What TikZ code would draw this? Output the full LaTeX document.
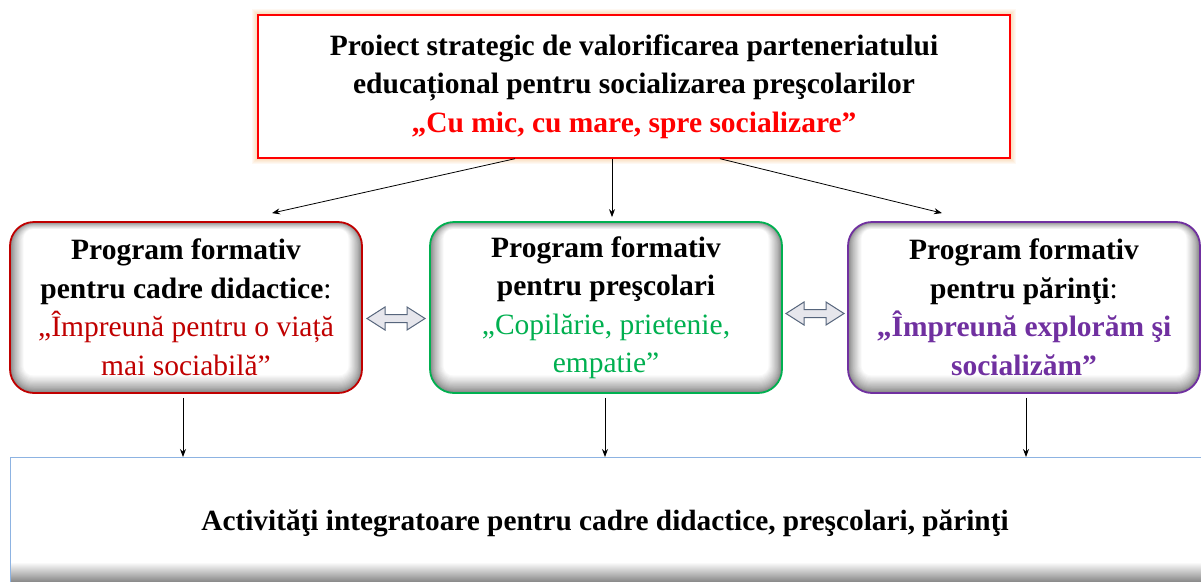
\documentclass[tikz,border=0pt]{standalone}
\usepackage{fontspec}
\setmainfont{Liberation Serif}
\usetikzlibrary{calc,arrows.meta}
\definecolor{topred}{HTML}{FF0000}
\definecolor{dred}{HTML}{C00000}
\definecolor{pgreen}{HTML}{00B050}
\definecolor{ppurple}{HTML}{7030A0}
\definecolor{bblue}{HTML}{8DB3E2}
\definecolor{arrfill}{HTML}{E6E6EC}
\definecolor{arrline}{HTML}{56657C}
\definecolor{glow}{HTML}{F7A54A}
\begin{document}
\begin{tikzpicture}[x=1pt,y=-1pt,
  txt/.style={font=\fontsize{29.5}{38.5}\selectfont, align=center},
  topbox/.style={draw=topred, line width=1.4pt, minimum width=752pt, minimum height=143pt, inner sep=0pt, txt, font=\fontsize{29.5}{38.5}\selectfont\bfseries},
  progbox/.style={line width=1.8pt, rounded corners=24pt, minimum width=352pt, minimum height=171pt, inner sep=0pt, txt,
    path picture={
      \foreach \i in {0,...,16}{
        \pgfmathsetmacro\c{100*(\i/16)^0.75}
        \pgfmathsetmacro\t{0.45*\i}
        \pgfmathsetmacro\s{0.85*\i}
        \pgfmathsetmacro\b{1.1*\i}
        \pgfmathsetmacro\r{max(24-0.9*\i,6)}
        \fill[white!\c!black!50, rounded corners=\r pt]
          ($(path picture bounding box.north west)+(\s pt,-\t pt)$) rectangle
          ($(path picture bounding box.south east)+(-\s pt,\b pt)$);
      }
    }},
  conn/.style={-{Stealth[length=8pt,width=6pt]}, line width=0.8pt, black},
  dbl/.style={draw=arrline, fill=arrfill, line width=1pt, line join=miter}
]
\useasboundingbox (0,0) rectangle (1201,581);
\fill[white] (0,0) rectangle (1201,581);

% glow of the top box
\foreach \w in {2,4,...,12}{
  \draw[glow, line width=\w pt, opacity=0.07] (258,15) rectangle (1010,158);
}
\node[topbox, fill=white] (T) at (634,86.5) {Proiect strategic de valorificarea parteneriatului\\
educațional pentru socializarea preşcolarilor\\
\textcolor{topred}{„Cu mic, cu mare, spre socializare”}};

\node[progbox, draw=dred] (L) at (186,307.5) {\textbf{Program formativ}\\
\textbf{pentru cadre didactice}:\\
\textcolor{dred}{„Împreună pentru o viață}\\
\textcolor{dred}{mai sociabilă”}};

\node[progbox, draw=pgreen] (M) at (606,307.5) {\textbf{Program formativ}\\
\textbf{pentru preşcolari}\\
\textcolor{pgreen}{„Copilărie, prietenie,}\\
\textcolor{pgreen}{empatie”}};

\node[progbox, draw=ppurple] (R) at (1024,307.5) {\textbf{Program formativ}\\
\textbf{pentru părinţi}:\\
\textcolor{ppurple}{\textbf{„Împreună explorăm şi}}\\
\textcolor{ppurple}{\textbf{socializăm”}}};

% bottom box
\shade[top color=white, bottom color=black!45] (10,562) rectangle (1210,581);
\node[draw=bblue, line width=1pt, minimum width=1200pt, minimum height=140pt, inner sep=0pt, anchor=north west] (B) at (10,457) {};
\node[font=\fontsize{29.3}{32}\selectfont\bfseries] (BT) at (605,523) {Activităţi integratoare pentru cadre didactice, preşcolari, părinţi};

% arrows from top box
\draw[conn] ($(T.south)+(-119,0)$) -- ($(L.north)+(86,-8)$);
\draw[conn] ($(T.south)+(-22,0)$) -- ($(M.north)+(6,-4)$);
\draw[conn] ($(T.south)+(86,0)$) -- ($(R.north)+(-82,-8)$);

% arrows to bottom box
\draw[conn] ($(L.south)+(-3,4)$) -- ($(L.south |- B.north)+(-3,0)$);
\draw[conn] ($(M.south)+(-1,4)$) -- ($(M.south |- B.north)+(-1,0)$);
\draw[conn] ($(R.south)+(2,4)$) -- ($(R.south |- B.north)+(2,0)$);

% double arrows between boxes
\draw[dbl] ($(L.east)!0.5!(M.west)+(-29,11)$) -- ++(18,-11.5) -- ++(0,7.5) -- ++(22,0) -- ++(0,-7.5)
  -- ++(18,11.5) -- ++(-18,11.5) -- ++(0,-7.5) -- ++(-22,0) -- ++(0,7.5) -- cycle;
\draw[dbl] ($(M.east)!0.5!(R.west)+(-29,6)$) -- ++(18,-11.5) -- ++(0,7.5) -- ++(22,0) -- ++(0,-7.5)
  -- ++(18,11.5) -- ++(-18,11.5) -- ++(0,-7.5) -- ++(-22,0) -- ++(0,7.5) -- cycle;
\end{tikzpicture}
\end{document}
